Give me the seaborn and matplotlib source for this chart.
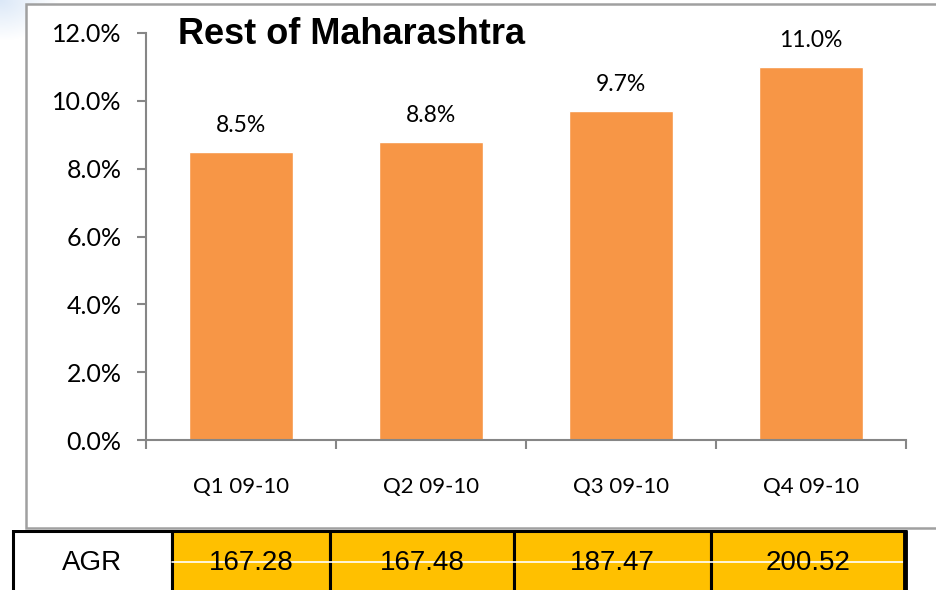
import numpy as np
import pandas as pd
import matplotlib
matplotlib.use("Agg")
import matplotlib.pyplot as plt
from matplotlib.patches import Rectangle
import seaborn as sns


# ===============================
# DATA
# ===============================

quarters = ["Q1 09-10", "Q2 09-10", "Q3 09-10", "Q4 09-10"]
growth = [8.5, 8.8, 9.7, 11.0]
growth_labels = ["8.5%", "8.8%", "9.7%", "11.0%"]
agr_values = ["167.28", "167.48", "187.47", "200.52"]
row_label = "AGR"
title = "Rest of Maharashtra"

df = pd.DataFrame({"quarter": quarters, "growth": growth})


# ===============================
# STYLE
# ===============================

sns.set_style("white")
plt.rcParams["font.family"] = ["Lato", "DejaVu Sans"]
plt.rcParams["text.color"] = "black"

W, H = 936, 590
fig = plt.figure(figsize=(W / 100, H / 100), dpi=100)
fig.patch.set_facecolor("white")


def px(x0, y0, x1, y1):
    # pixel box (top-left origin) -> figure fraction rect
    return [x0 / W, 1 - y1 / H, (x1 - x0) / W, (y1 - y0) / H]


# light blue fade in the top-left corner
bg = fig.add_axes([0, 0, 1, 1], zorder=-2)
yy, xx = np.mgrid[0:H, 0:W]
fade = np.clip(1 - np.hypot(xx / 60.0, yy / 40.0), 0, 1)
img = np.ones((H, W, 3))
tint = np.array([0.86, 0.91, 0.97])
img = img * (1 - fade[..., None]) + tint * fade[..., None]
bg.imshow(img, aspect="auto", extent=(0, W, H, 0))
bg.set_axis_off()

# outer gray frame of the chart
fig.patches.append(Rectangle((26 / W, 1 - 528 / H), (W + 20 - 26) / W, (528 - 4) / H,
                             transform=fig.transFigure, facecolor="white",
                             edgecolor="#a0a0a0", linewidth=1.8, zorder=-1))


# ===============================
# BAR CHART
# ===============================

ax = fig.add_axes(px(146, 33, 906, 440))
ax.set_facecolor("none")

sns.barplot(data=df, x="quarter", y="growth", color="#F79646", saturation=1,
            width=0.55, ax=ax)

ax.set_xlim(-0.5, len(quarters) - 0.5)
ax.set_ylim(0, 12)
ax.set_yticks(np.arange(0, 12.1, 2))
ax.set_yticklabels(["%.1f%%" % v for v in np.arange(0, 12.1, 2)])
ax.set_xlabel("")
ax.set_ylabel("")

for s in ["top", "right"]:
    ax.spines[s].set_visible(False)
for s in ["left", "bottom"]:
    ax.spines[s].set_color("#868686")
    ax.spines[s].set_linewidth(1.5)

ax.tick_params(axis="y", which="major", length=6.5, width=1.5, color="#868686",
               pad=11, labelsize=18, labelcolor="black", left=True)
ax.tick_params(axis="x", which="major", length=0, pad=27, labelsize=16,
               labelcolor="black")
ax.set_xticks(np.arange(-0.5, len(quarters)), minor=True)
ax.tick_params(axis="x", which="minor", length=6.5, width=1.5, color="#868686",
               bottom=True)

for i, lab in enumerate(growth_labels):
    ax.annotate(lab, (i, growth[i]), xytext=(0, 19), textcoords="offset points",
                ha="center", va="center", fontsize=16.5, color="black")

fig.text(178 / W, 1 - 43.5 / H, title, ha="left", va="baseline", fontsize=26,
         fontweight="bold", color="black",
         family=["Liberation Sans", "DejaVu Sans"])


# ===============================
# AGR TABLE
# ===============================

edges = [13, 172, 330, 514, 711, 905]
tab = fig.add_axes(px(0, 530, W, H))
tab.set_xlim(0, W)
tab.set_ylim(H, 530)
tab.set_axis_off()

cells = [row_label] + agr_values
for k, txt in enumerate(cells):
    x0, x1 = edges[k], edges[k + 1]
    fc = "white" if k == 0 else "#FFC000"
    tab.add_patch(Rectangle((x0, 531), x1 - x0, 80, facecolor=fc,
                            edgecolor="black", linewidth=2.2))
    tab.text((x0 + x1) / 2, 563, txt, ha="center", va="center", fontsize=20,
             family=["Liberation Sans", "DejaVu Sans"], color="black")

tab.plot([edges[1], edges[-1]], [562, 562], color="white", linewidth=1.2)
tab.plot([edges[-1], edges[-1]], [531, H + 5], color="black", linewidth=3.5)

fig.savefig("out.png", dpi=100)
